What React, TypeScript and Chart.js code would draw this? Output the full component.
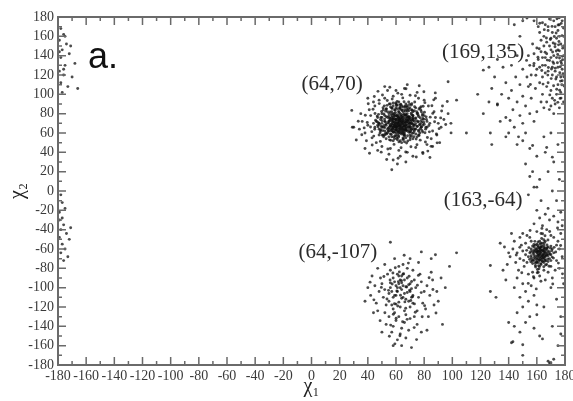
import React, { useEffect, useRef } from 'react';
import { Chart, registerables } from 'chart.js';

Chart.register(...registerables);

// Rotamer cluster around (64,70)
const clusterA: [number, number][] = [
  [64,70],[60,72],[67,68],[58,66],[70,74],[62,78],[66,63],[55,70],[72,69],[63,75],
  [59,61],[68,80],[61,67],[65,73],[57,76],[71,64],[64,59],[69,71],[56,68],[62,70],
  [66,77],[60,65],[73,72],[58,80],[65,66],[63,62],[70,67],[61,74],[67,75],[59,69],
  [64,79],[56,73],[68,62],[62,64],[72,76],[57,62],[66,70],[60,78],[69,66],[63,68],
  [58,72],[65,60],[71,79],[61,71],[67,65],[55,66],[64,74],[70,61],[59,75],[62,60],
  [66,67],[68,73],[57,70],[63,80],[60,63],[65,76],[72,66],[61,68],[67,71],[58,64],
  [64,66],[69,77],[56,75],[62,73],[70,70],[59,67],[66,61],[63,72],[71,73],[60,69],
  [65,64],[57,78],[68,68],[61,77],[64,63],[67,79],[58,68],[62,76],[69,63],[55,72],
  [66,74],[60,60],[73,68],[63,65],[59,78],[65,71],[70,76],[61,62],[67,67],[57,66],
  [64,77],[62,67],[68,70],[60,74],[66,64],[58,61],[71,70],[63,73],[65,68],[59,71],
  [56,64],[69,74],[62,62],[67,72],[61,79],[64,61],[70,65],[58,76],[66,79],[63,69],
  [60,67],[68,76],[57,73],[65,62],[72,74],[61,65],[64,71],[59,63],[67,63],[62,75],
  [50,70],[48,64],[52,78],[76,72],[78,66],[75,80],[51,58],[77,60],[53,85],[74,86],
  [64,88],[60,90],[68,87],[57,86],[71,89],[63,52],[59,54],[67,55],[55,56],[72,54],
  [49,74],[47,68],[79,75],[80,69],[46,72],[52,62],[76,63],[54,82],[73,83],[66,84],
  [61,85],[58,52],[70,53],[64,50],[62,92],[50,80],[78,82],[48,58],[81,64],[53,54],
  [75,56],[56,90],[69,92],[45,66],[82,72],[51,66],[77,69],[54,60],[74,59],[60,86],
  [67,90],[57,56],[70,58],[63,86],[65,55],[49,62],[79,61],[52,72],[76,77],[55,80],
  [72,82],[58,88],[66,51],[61,53],[47,76],[80,78],[53,68],[75,67],[56,59],[71,57],
  [64,84],[59,84],[68,83],[50,76],[78,73],[54,64],[74,64],[62,57],[66,58],[60,57],
  [48,70],[82,66],[51,84],[77,86],[55,62],[73,62],[63,89],[58,91],[69,85],[52,58],
  [76,58],[57,82],[71,84],[65,87],[61,89],[44,70],[84,70],[50,66],[79,68],[54,76],
  [40,68],[42,78],[38,60],[86,62],[88,76],[90,70],[43,55],[85,54],[45,88],[83,88],
  [64,100],[58,98],[70,99],[52,96],[76,96],[62,42],[56,44],[68,40],[50,46],[74,45],
  [36,72],[92,66],[41,84],[87,82],[46,50],[82,48],[60,104],[66,106],[55,38],[72,36],
  [34,64],[94,74],[39,52],[89,58],[48,94],[80,94],[63,36],[58,32],[30,66],[97,80],
  [44,92],[86,46],[68,110],[54,104],[75,102],[47,42],[79,40],[61,28],[67,30],[35,80],
  [93,88],[40,96],[88,96],[57,22],[97,113],[29,66],[52,108],[99,70],[38,44],[91,50],
];

const clusterA2: [number, number][] = [
  [45.5,73.2],[83.4,67.8],[51.7,88.1],[77.2,52.6],[42.8,61.4],[86.1,80.3],[57.3,95.2],[70.6,45.7],[48.9,51.3],[80.5,91.4],
  [39.6,70.8],[88.7,58.9],[54.2,43.5],[73.8,98.6],[61.3,101.2],[66.9,40.4],[43.7,84.6],[84.9,46.2],[50.4,99.3],[79.1,38.8],
  [47.3,66.5],[81.6,74.1],[55.8,81.7],[72.4,60.3],[52.9,69.4],[76.3,84.8],[58.6,48.2],[69.7,89.5],[44.2,56.8],[85.5,88.2],
  [53.1,76.9],[75.6,71.3],[59.4,83.6],[68.2,57.1],[49.8,82.3],[78.4,62.7],[56.7,58.4],[71.9,78.2],[46.6,77.5],[82.3,55.4],
  [60.8,92.7],[67.5,49.6],[41.9,66.2],[87.4,71.6],[54.6,64.8],[74.1,75.5],[62.7,86.4],[65.3,53.9],[51.2,56.1],[77.8,87.1],
  [57.9,74.6],[70.2,66.3],[48.1,90.4],[80.9,50.7],[55.4,52.9],[73.3,92.1],[63.6,44.8],[64.8,96.3],[45.1,80.1],[83.7,61.2],
  [52.3,71.8],[76.8,68.4],[58.2,60.7],[69.1,82.9],[50.6,62.5],[78.9,79.7],[61.7,55.6],[66.4,87.8],[47.7,70.3],[81.2,65.9],
  [56.1,86.9],[72.7,56.2],[53.8,93.6],[74.9,47.8],[59.7,66.1],[68.6,73.7],[44.9,63.9],[84.3,76.4],[62.2,81.2],[65.9,59.3],
  [49.3,76.2],[79.6,71.1],[57.1,69.2],[71.3,69.8],[54.9,77.3],[73.5,64.1],[60.2,63.4],[67.8,77.1],[51.6,67.7],[77.1,75.8],
  [58.8,79.9],[70.4,61.6],[55.1,72.6],[72.2,72.9],[61.1,58.3],[66.7,82.4],[52.7,59.8],[75.3,80.6],[63.3,67.3],[64.5,75.2],
  [59.1,70.5],[69.4,68.9],[56.4,67.4],[71.7,75.1],[62.9,64.2],[65.6,79.3],[57.6,73.9],[70.9,63.5],[60.5,77.6],[67.2,62.8],
  [58.3,65.7],[68.9,76.5],[61.9,73.1],[66.2,68.7],[63.8,71.9],[59.9,74.2],[69.9,70.2],[62.4,66.8],[65.1,72.4],[60.9,69.8],
  [38.2,78.4],[90.6,64.5],[43.1,47.6],[86.8,94.3],[35.7,58.2],[92.4,82.7],[47.2,103.1],[82.6,41.3],[40.3,90.2],[89.2,49.8],
  [55.6,107.4],[74.4,35.2],[33.2,72.1],[95.3,68.8],[49.5,40.2],[79.8,102.6],[61.5,33.9],[67.1,105.8],[37.4,65.3],[91.7,75.6],
  [28.6,83.4],[99.1,60.1],[44.6,97.8],[84.1,34.7],[53.4,32.6],[76.5,108.9],[31.8,52.7],[96.4,92.6],[41.2,39.1],[87.9,101.5],
];

const clusterA3: [number, number][] = [
  [48.3,68.7],[51.9,74.4],[54.4,61.9],[57.2,85.3],[60.6,54.6],[63.4,89.7],[66.1,56.9],[69.8,86.1],[72.5,63.7],[75.7,78.6],
  [78.1,70.9],[80.6,60.2],[47.6,79.3],[50.2,57.8],[53.7,88.6],[56.3,52.4],[59.8,91.1],[62.1,50.8],[65.7,92.3],[68.4,51.7],
  [71.2,90.4],[74.3,53.8],[77.6,83.9],[81.4,76.7],[49.1,63.4],[52.6,82.7],[55.9,67.2],[58.7,77.8],[61.4,61.1],[64.2,83.2],
  [67.3,64.9],[70.8,80.4],[73.9,69.6],[76.4,57.4],[79.3,87.6],[46.8,71.5],[50.8,86.2],[53.3,58.9],[56.8,79.4],[59.3,57.2],
  [62.6,84.7],[65.4,58.1],[68.1,88.3],[71.6,59.6],[74.7,82.1],[77.9,66.2],[80.2,81.5],[48.7,60.3],[52.1,65.6],[55.2,90.1],
  [58.4,55.9],[61.8,82.3],[64.9,53.2],[67.7,84.6],[70.1,55.4],[73.2,87.2],[76.1,61.8],[79.7,74.3],[51.4,79.6],[54.1,70.7],
  [57.4,64.3],[60.3,88.4],[63.1,59.8],[66.6,86.9],[69.2,60.8],[72.1,77.9],[75.1,66.7],[78.7,78.1],[49.7,67.1],[53.2,84.9],
  [56.6,62.6],[59.6,81.1],[62.3,68.4],[65.2,81.7],[68.7,66.1],[71.4,83.6],[74.6,72.7],[77.3,64.4],[50.1,72.8],[55.5,75.3],
  [58.9,68.1],[61.6,75.9],[64.1,64.6],[67.1,78.7],[70.3,72.1],[73.6,74.9],[57.7,71.4],[60.4,66.2],[63.7,77.4],[66.4,71.2],
  [69.5,75.8],[72.8,67.9],[59.4,73.6],[62.2,71.6],[65.8,66.9],[68.3,71.9],[61.3,70.1],[64.6,69.3],[67.4,73.4],[63.1,74.6],
];

// Rotamer cluster around (64,-107)
const clusterB: [number, number][] = [
  [64,-102],[60,-98],[68,-105],[58,-110],[70,-96],[62,-115],[66,-92],[56,-100],[72,-108],[63,-120],
  [59,-94],[67,-112],[61,-104],[65,-98],[57,-118],[71,-101],[64,-88],[69,-114],[55,-106],[62,-96],
  [66,-124],[60,-108],[73,-92],[58,-90],[65,-110],[63,-100],[70,-120],[61,-86],[67,-99],[59,-126],
  [64,-111],[56,-95],[68,-90],[62,-130],[72,-116],[57,-104],[66,-106],[60,-117],[69,-97],[63,-92],
  [58,-122],[65,-86],[71,-110],[61,-100],[67,-128],[55,-114],[64,-95],[70,-104],[59,-108],[62,-88],
  [74,-100],[52,-102],[76,-110],[50,-96],[78,-94],[53,-118],[75,-124],[54,-86],[77,-86],[51,-110],
  [66,-136],[60,-134],[70,-132],[58,-140],[64,-142],[68,-80],[62,-78],[56,-82],[72,-82],[65,-76],
  [48,-104],[80,-104],[46,-116],[82,-98],[49,-90],[79,-116],[47,-124],[81,-122],[45,-98],[84,-108],
  [63,-148],[57,-146],[69,-144],[61,-154],[67,-152],[55,-130],[73,-130],[53,-138],[75,-138],[42,-108],
  [86,-92],[44,-126],[87,-118],[40,-100],[89,-104],[52,-76],[76,-74],[59,-70],[70,-70],[64,-160],
  [58,-160],[71,-162],[43,-88],[85,-84],[38,-114],[90,-114],[50,-146],[78,-146],[47,-80],[83,-130],
  [56,-53],[78,-63],[88,-66],[103,-64],[98,-78],[93,-138],[82,-144],[85,-70],[92,-90],[95,-100],
  [57.3,-96.2],[71.8,-109.4],[62.4,-83.7],[66.9,-121.3],[53.6,-111.8],[75.2,-97.5],[60.1,-131.6],[69.3,-88.2],[55.8,-92.1],[73.7,-125.4],
  [63.2,-107.9],[67.6,-99.3],[58.9,-116.6],[70.5,-113.2],[61.7,-93.8],[65.4,-85.6],[52.1,-125.9],[77.9,-105.1],[64.7,-135.2],[59.5,-79.4],
  [68.8,-74.6],[56.2,-138.7],[72.9,-141.3],[49.6,-99.7],[80.3,-118.6],[62.8,-149.8],[66.3,-114.7],[60.6,-103.4],[71.1,-93.6],[54.7,-102.8],
  [75.9,-87.3],[58.1,-127.5],[67.9,-132.8],[63.9,-92.9],[51.4,-88.4],[78.6,-130.1],[61.2,-118.9],[69.7,-102.6],[57.8,-84.9],[73.1,-116.8],
  [44.3,-112.6],[86.2,-101.9],[48.7,-134.1],[83.5,-89.8],[55.3,-150.2],[74.6,-153.7],[65.8,-66.4],[59.2,-158.1],[88.4,-126.2],[41.6,-94.3],
];

// Rotamer cluster around (163,-64), including wrap-around at -180
const clusterC: [number, number][] = [
  [163,-64],[160,-60],[166,-68],[158,-66],[168,-62],[162,-72],[165,-56],[157,-62],[170,-66],[161,-58],
  [164,-70],[159,-70],[167,-60],[163,-58],[156,-67],[169,-70],[162,-63],[165,-74],[160,-55],[166,-64],
  [158,-72],[164,-61],[171,-60],[161,-67],[163,-76],[157,-57],[168,-73],[160,-64],[165,-60],[162,-52],
  [159,-62],[167,-66],[163,-68],[155,-64],[170,-57],[161,-74],[166,-71],[164,-54],[158,-58],[169,-63],
  [162,-66],[160,-69],[165,-65],[163,-61],[157,-71],[168,-58],[161,-62],[164,-66],[159,-56],[166,-59],
  [162,-78],[170,-72],[156,-60],[163,-54],[167,-76],[160,-74],[165,-69],[158,-63],[164,-73],[161,-70],
  [172,-64],[154,-68],[166,-52],[159,-77],[168,-67],[162,-59],[163,-71],[157,-75],[170,-78],[165,-63],
  [150,-62],[148,-70],[152,-54],[176,-60],[174,-72],[175,-52],[151,-78],[153,-46],[172,-48],[163,-44],
  [160,-42],[167,-40],[157,-84],[168,-84],[162,-88],[146,-64],[178,-68],[149,-56],[173,-82],[155,-48],
  [158,-90],[166,-92],[145,-74],[150,-44],[177,-44],[171,-90],[154,-86],[147,-82],[164,-36],[158,-34],
  [169,-30],[176,-80],[143,-60],[152,-66],[174,-56],[156,-52],[170,-46],[165,-82],[161,-84],[153,-74],
  [178,-36],[172,-26],[166,-24],[175,-32],[168,-18],[162,-28],[177,-22],[160,-20],[148,-48],[141,-68],
  [144,-52],[139,-76],[146,-90],[150,-96],[156,-98],[152,-104],[158,-108],[148,-110],[154,-114],[160,-118],
  [150,-120],[146,-126],[155,-130],[152,-136],[160,-128],[144,-140],[148,-146],[158,-142],[165,-120],[162,-150],
  [140,-64],[137,-58],[142,-44],[136,-82],[138,-92],[134,-54],[127,-77],[131,-110],[143,-156],[150,-170],
  [170,-100],[174,-112],[177,-130],[175,-160],[170,-178],[168,-176],[172,-174],[179,-96],[177,-148],[144,-100],
  [127,-104],[140,-136],[142,-157],[150,-159],[164,-153],[171,-140],[169,-178],
  [161.4,-62.3],[164.7,-65.8],[159.2,-67.4],[166.3,-61.1],[162.6,-69.7],[165.1,-58.4],[158.4,-60.9],[167.8,-70.2],[160.7,-56.6],[163.9,-72.8],
  [157.3,-64.5],[169.4,-65.3],[161.9,-59.2],[164.2,-67.6],[160.1,-71.5],[166.9,-63.7],[162.3,-55.1],[159.8,-63.2],[165.6,-71.9],[163.2,-62.6],
  [156.1,-69.1],[170.6,-61.8],[158.9,-74.6],[167.2,-55.7],[161.2,-77.3],[164.9,-50.4],[154.3,-58.6],[171.8,-69.4],[155.7,-73.2],[168.7,-77.9],
  [152.8,-61.4],[173.4,-63.1],[160.4,-81.2],[165.8,-46.3],[150.6,-71.8],[175.3,-74.6],[157.6,-88.7],[169.1,-41.9],[147.9,-58.3],[176.9,-56.4],
  [162.9,-93.4],[155.2,-40.8],[171.3,-96.2],[149.3,-84.5],[178.2,-85.7],[159.6,-101.3],[153.9,-95.6],[145.4,-66.2],[163.6,-38.7],[174.7,-38.2],
  [162.1,-65.2],[164.4,-61.7],[160.6,-66.3],[165.9,-67.1],[161.7,-71.2],[163.8,-57.3],[159.4,-59.6],[166.6,-72.3],[158.1,-68.8],[167.4,-58.7],
  [162.8,-75.1],[160.9,-52.8],[164.9,-78.4],[157.9,-55.4],[168.3,-64.9],[156.8,-72.1],[169.7,-59.1],[161.5,-80.4],[163.4,-49.1],[166.2,-76.6],
  [159.1,-78.6],[165.4,-53.6],[155.6,-62.8],[170.9,-68.4],[158.6,-52.1],[167.9,-50.7],[154.9,-70.7],[172.3,-58.3],[160.3,-84.6],[164.1,-44.2],
  [162.4,-60.4],[161.1,-64.8],[163.7,-66.9],[165.3,-62.2],[160.2,-62.1],[164.6,-69.3],[162.9,-57.9],[159.7,-73.4],[166.8,-66.4],[161.8,-68.1],
  [-179,-22],[-177,-28],[-176,-35],[-178,-40],[-174,-44],[-179,-48],[-172,-50],[-177,-55],[-175,-60],
  [-178,-64],[-173,-68],[-176,-72],[-179,-30],[-171,-38],[-177,-12],[-178,-4],[-175,-18],
];

// Rotamer cluster around (169,135), scattered points, and wrap-around at -180
const clusterD: [number, number][] = [
  [169,135],[172,140],[166,130],[175,128],[170,146],[164,138],[177,134],[168,124],[173,152],[162,128],
  [176,145],[171,120],[167,142],[174,118],[165,150],[178,126],[170,158],[163,144],[176,160],[168,112],
  [172,132],[166,122],[179,140],[161,136],[174,138],[169,150],[164,118],[177,152],[171,164],[167,108],
  [175,110],[160,126],[173,170],[168,166],[178,114],[163,156],[176,172],[170,104],[165,160],[179,160],
  [158,132],[172,176],[166,172],[174,100],[162,112],[177,102],[169,178],[160,148],[175,166],[171,96],
  [156,120],[164,100],[178,176],[158,142],[173,90],[167,92],[155,130],[162,164],[170,88],[176,86],
  [153,118],[159,106],[179,92],[165,86],[157,152],[161,170],[154,140],[172,80],[163,92],[150,126],
  [168,170],[175,146],[171,128],[166,138],[173,124],[177,118],[164,130],[170,138],[174,158],[167,154],
  [148,110],[145,118],[150,98],[142,104],[152,88],[146,92],[140,96],[155,80],[148,78],[143,84],
  [138,112],[135,100],[150,70],[144,66],[158,72],[152,60],[138,76],[132,90],[140,60],[128,106],
  [130,118],[136,128],[126,92],[146,140],[142,130],[156,96],[160,82],[154,108],[134,72],[122,80],
  [118,100],[146,48],[155,44],[160,36],[152,28],[157,20],[162,12],[158,4],[154,-4],[163,-10],
  [150,52],[165,56],[170,60],[175,48],[166,40],[172,30],[168,20],[176,12],[171,0],[174,-10],
  [110,60],[128,48],[103,94],[132,136],[140,148],[148,160],[126,128],[144,172],[150,176],[138,56],
  [122,125],[132,89],[127,60],[141,73],[147,56],[157,47],[167,45],[171,35],[155,15],[160,4],
  [153,179],[158,176],[164,174],
  [171.4,133.6],[174.8,141.2],[168.2,127.8],[176.3,122.4],[172.9,149.3],[169.6,156.7],[177.5,131.9],[165.9,143.6],[173.7,163.4],[170.2,116.3],
  [178.4,147.8],[167.4,135.4],[175.1,171.8],[163.5,124.6],[171.9,108.9],[176.8,113.7],[166.8,158.2],[174.3,178.1],[169.2,99.4],[178.9,168.5],
  [161.7,147.2],[172.6,93.8],[164.4,110.6],[177.2,96.1],[159.3,119.7],[168.9,84.2],[175.7,154.6],[162.1,173.6],[170.8,170.3],[157.8,129.5],
  [173.1,127.1],[176.1,137.6],[165.3,166.9],[179.2,118.2],[160.8,138.4],[171.2,143.8],[174.1,105.2],[167.8,119.9],[155.4,110.2],[152.7,135.1],
  [176.7,128.6],[178.1,139.3],[175.4,151.2],[177.9,160.7],[174.6,132.7],[179.4,108.6],[176.2,104.3],[173.5,115.8],[178.6,121.4],[175.9,179.2],
  [177.3,173.4],[172.4,159.8],[179.1,150.1],[174.9,91.7],[176.5,95.8],[171.6,153.1],[178.3,135.8],[173.8,144.9],[170.4,126.2],[177.7,109.9],
  [-178,168],[-176,162],[-179,156],[-174,152],[-177,146],[-172,142],[-178,138],[-175,130],[-168,132],[-179,124],
  [-176,120],[-170,118],[-178,112],[-173,108],[-166,106],[-177,102],[-175,160],[-171,150],[-179,144],[-176,126],
];

const tickMin = -180;
const tickMax = 180;
const majorStep = 20;
const minorStep = 10;

const annotations = [
  { text: '(64,70)', x: 14.6, y: 109.7 },
  { text: '(169,135)', x: 121.8, y: 142.8 },
  { text: '(163,-64)', x: 121.8, y: -9.3 },
  { text: '(64,-107)', x: 18.8, y: -64.1 },
];
const panelLabel = { text: 'a.', x: -158.7, y: 127.2 };

const framePlugin = {
  id: 'frameTicks',
  afterDraw(chart: any) {
    const { ctx, chartArea, scales } = chart;
    const { left, right, top, bottom } = chartArea;
    ctx.save();
    ctx.strokeStyle = '#6a6a6a';
    ctx.lineWidth = 1.5;
    ctx.beginPath();
    for (let v = tickMin; v <= tickMax; v += minorStep) {
      const len = v % majorStep === 0 ? 8 : 4;
      const px = scales.x.getPixelForValue(v);
      ctx.moveTo(px, bottom); ctx.lineTo(px, bottom - len);
      ctx.moveTo(px, top); ctx.lineTo(px, top + len);
      const py = scales.y.getPixelForValue(v);
      ctx.moveTo(left, py); ctx.lineTo(left + len, py);
      ctx.moveTo(right, py); ctx.lineTo(right - len, py);
    }
    ctx.stroke();
    ctx.lineWidth = 2;
    ctx.strokeRect(left, top, right - left, bottom - top);

    ctx.fillStyle = '#2a2a2a';
    ctx.font = "21px 'Liberation Serif', serif";
    ctx.textAlign = 'center';
    ctx.textBaseline = 'middle';
    for (const a of annotations) {
      ctx.fillText(a.text, scales.x.getPixelForValue(a.x), scales.y.getPixelForValue(a.y));
    }
    ctx.fillStyle = '#111';
    ctx.font = "36px 'Liberation Sans', Arial, sans-serif";
    ctx.textAlign = 'left';
    ctx.textBaseline = 'alphabetic';
    ctx.fillText(panelLabel.text, scales.x.getPixelForValue(panelLabel.x), scales.y.getPixelForValue(panelLabel.y));
    ctx.restore();
  },
};

export default function App() {
  const canvasRef = useRef<HTMLCanvasElement | null>(null);

  useEffect(() => {
    if (!canvasRef.current) return;
    const pointStyle = {
      pointRadius: 1.45,
      pointBackgroundColor: 'rgba(15,15,15,0.75)',
      pointBorderColor: 'rgba(15,15,15,0.75)',
      pointBorderWidth: 0,
      showLine: false,
    };
    const toPts = (arr: [number, number][]) => arr.map(([x, y]) => ({ x, y }));
    const tickFont = { family: "'Liberation Serif', 'Times New Roman', serif", size: 14 };
    const chart = new Chart(canvasRef.current, {
      type: 'scatter',
      data: {
        datasets: [
          { label: 'A', data: toPts(clusterA), ...pointStyle },
          { label: 'A2', data: toPts(clusterA2), ...pointStyle },
          { label: 'A3', data: toPts(clusterA3), ...pointStyle },
          { label: 'B', data: toPts(clusterB), ...pointStyle },
          { label: 'C', data: toPts(clusterC), ...pointStyle },
          { label: 'D', data: toPts(clusterD), ...pointStyle },
        ],
      },
      options: {
        animation: false,
        responsive: false,
        layout: { padding: { left: 0, top: 17, right: 8, bottom: 0 } },
        plugins: { legend: { display: false }, tooltip: { enabled: false } },
        scales: {
          x: {
            type: 'linear',
            min: tickMin,
            max: tickMax,
            grid: { display: false, drawTicks: false },
            border: { display: false },
            ticks: { stepSize: majorStep, autoSkip: false, maxRotation: 0, font: tickFont, color: '#3a3a3a', padding: 3 },
            title: { display: true, text: 'χ₁', font: { family: "'Liberation Serif', serif", size: 20 }, color: '#222', padding: { top: 0, bottom: 2 } },
            afterFit: (s: any) => { s.height = 36; s.paddingLeft = 0; s.paddingRight = 0; },
          },
          y: {
            type: 'linear',
            min: tickMin,
            max: tickMax,
            grid: { display: false, drawTicks: false },
            border: { display: false },
            ticks: { stepSize: majorStep, autoSkip: false, font: tickFont, color: '#3a3a3a', padding: 4 },
            title: { display: true, text: 'χ₂', font: { family: "'Liberation Serif', serif", size: 20 }, color: '#222', padding: { top: 6, bottom: 0 } },
            afterFit: (s: any) => { s.width = 58; s.paddingTop = 0; s.paddingBottom = 0; },
          },
        },
      },
      plugins: [framePlugin],
    } as any);
    return () => chart.destroy();
  }, []);

  return (
    <div style={{ position: 'absolute', left: 0, top: 0, width: 573, height: 401, background: '#fff' }}>
      <canvas ref={canvasRef} width={573} height={401} />
    </div>
  );
}
